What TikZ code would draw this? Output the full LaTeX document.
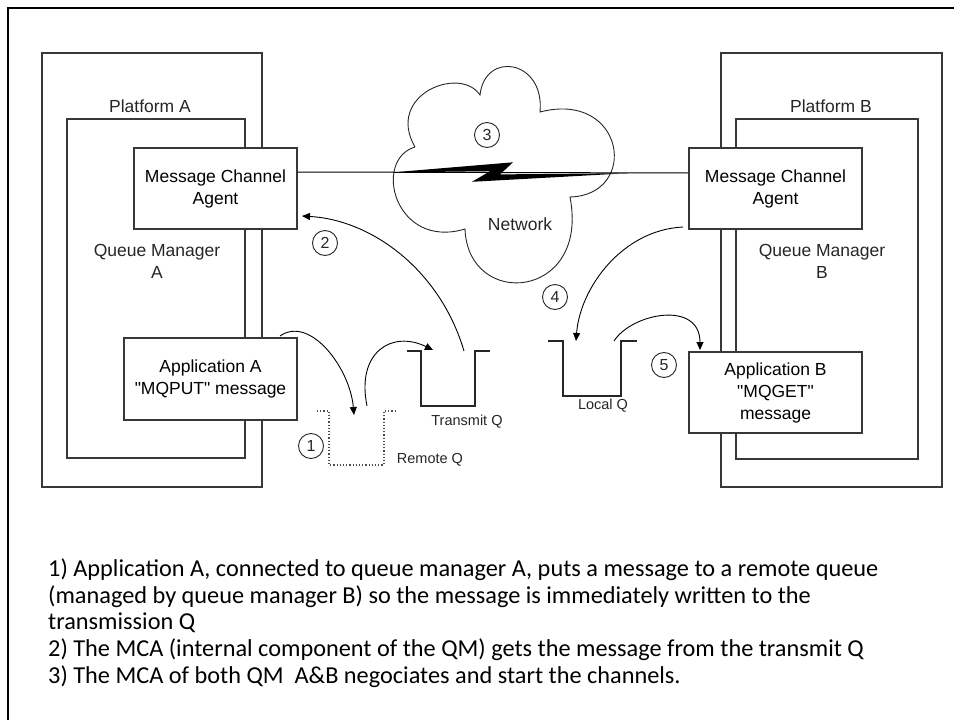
\documentclass[tikz,border=0pt]{standalone}
\usepackage{fontspec}
\setmainfont{Liberation Sans}
\newfontfamily\diagfont{Liberation Sans}
\newfontfamily\notesfont{Carlito}
\usetikzlibrary{arrows.meta}
\begin{document}
\begin{tikzpicture}[x=1pt,y=-1pt,
  boxline/.style={draw=black!78, line width=1.4pt},
  comp/.style={boxline, fill=white, inner sep=0pt, align=center,
    font=\diagfont\fontsize{17.5}{22}\selectfont},
  lbl/.style={inner sep=0pt, font=\diagfont\fontsize{17.5}{22}\selectfont, align=center, text=black!85},
  small/.style={inner sep=0pt, font=\diagfont\fontsize{14.5}{17}\selectfont, text=black!85},
  num/.style={circle, draw=black!85, line width=0.9pt, minimum size=25pt, inner sep=0pt,
    font=\diagfont\fontsize{16}{18}\selectfont, text=black!85},
  queue/.style={draw=black!85, line width=1.4pt},
  flow/.style={draw=black, line width=0.9pt, -{Triangle[length=8pt,width=7pt]}},
  note/.style={anchor=base west, inner sep=0pt, font=\notesfont\fontsize{24.3}{26.7}\selectfont}
]
\useasboundingbox (0,0) rectangle (954,720);
% frame
\draw[line width=2.6pt, black] (954,8) -- (8,8) -- (8,720);

% platforms and queue managers
\node[boxline, minimum width=220pt, minimum height=434pt, inner sep=0pt] (platA) at (152,270) {};
\node[boxline, minimum width=221pt, minimum height=434pt, inner sep=0pt] (platB) at (831.5,270) {};
\node[boxline, minimum width=178pt, minimum height=339pt, inner sep=0pt] (qmA) at (156,288.5) {};
\node[boxline, minimum width=182pt, minimum height=340pt, inner sep=0pt] (qmB) at (827,289) {};
\node[lbl] (platAl) at (150,106) {Platform A};
\node[lbl] (platBl) at (831,106) {Platform B};
\node[lbl] (qmAl) at (157,261) {Queue Manager\\A};
\node[lbl] (qmBl) at (822,261) {Queue Manager\\B};

% components
\node[comp, minimum width=163pt, minimum height=81pt] (mcaA) at (215.5,188.5) {Message Channel\\Agent};
\node[comp, minimum width=173pt, minimum height=82pt] (appA) at (210.5,379) {Application A\\"MQPUT" message};
\node[comp, minimum width=173pt, minimum height=81pt] (mcaB) at (775.5,188.5) {Message Channel\\Agent};
\node[comp, minimum width=173pt, minimum height=81pt] (appB) at (775.5,392.5) {Application B\\"MQGET"\\message};

% cloud
\draw[black!85, line width=0.9pt] (415,147)
  .. controls (372,160) and (395,250) .. (465,229)
  .. controls (468,310) and (590,300) .. (570,197)
  .. controls (640,195) and (625,90) .. (540,112)
  .. controls (545,60) and (485,50) .. (480,95)
  .. controls (460,65) and (385,95) .. (415,147);
\node[lbl] (net) at (520,224) {Network};

% channel with lightning
\draw[black, line width=1pt] (mcaA.east |- 0,172) -- (mcaB.west |- 0,173);
\fill[black] (392,172.4) -- (513,162.3) -- (500,174.4) -- (628,173.2) -- (472,181.8) -- (490,171.2) -- cycle;

% queues
\draw[queue] (407,351) -- (421,351) -- (421,406) -- (475,406) -- (475,351) -- (490,351);
\draw[queue] (548,341) -- (563,341) -- (563,396) -- (621,396) -- (621,341) -- (637,341);
\draw[black!70, line width=1.2pt, dotted] (317,411) -- (329,411) -- (329,465) -- (384,465) -- (384,411) -- (395,411);
\node[small] (tql) at (467,422) {Transmit Q};
\node[small] (lql) at (603,406) {Local Q};
\node[small] (rql) at (430,460) {Remote Q};

% numbered markers
\node[num] (n1) at (311,446) {1};
\node[num] (n2) at (325,243) {2};
\node[num] (n3) at (487,135) {3};
\node[num] (n4) at (555,297) {4};
\node[num] (n5) at (664,365) {5};

% connector end points
\coordinate (a1s) at (280,336);
\coordinate (rqin) at (354,415);
\coordinate (rqout) at (367,406);
\coordinate (tqin) at (433,350);
\coordinate (tqout) at (464,351);
\coordinate (mcaAin) at (302,216);
\coordinate (b4s) at (683,227);
\coordinate (lqin) at (576,341);
\coordinate (lqout) at (614,341);
\coordinate (appBin) at (700,350);

% flows
\draw[flow] (a1s) .. controls (310,315) and (350,368) .. (rqin);
\draw[flow] (rqout) .. controls (356,352) and (392,330) .. (tqin);
\draw[flow] (tqout) .. controls (440,270) and (372,220) .. (mcaAin);
\draw[flow] (b4s) .. controls (622,230) and (580,288) .. (lqin);
\draw[flow] (lqout) .. controls (632,313) and (700,300) .. (appBin);

% notes
\node[note] (l1) at (48,576) {1) Application A, connected to queue manager A, puts a message to a remote queue};
\node[note] (l2) at (48,603) {(managed by queue manager B) so the message is immediately written to the};
\node[note] (l3) at (48,629) {transmission Q};
\node[note] (l4) at (48,656) {2) The MCA (internal component of the QM) gets the message from the transmit Q};
\node[note] (l5) at (48,683) {3) The MCA of both QM\ \ A\&B negociates and start the channels.};
\end{tikzpicture}
\end{document}
